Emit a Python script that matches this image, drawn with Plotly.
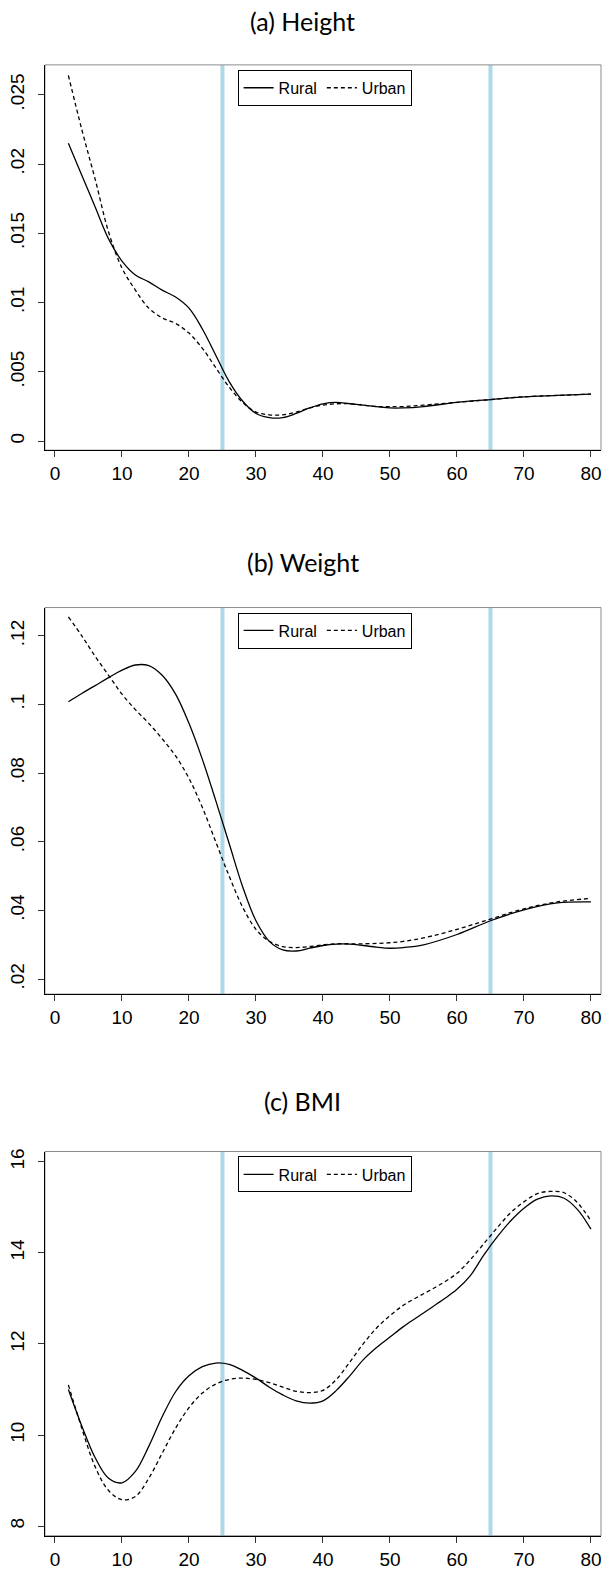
import plotly.graph_objects as go
from plotly.subplots import make_subplots

# ---------------- data ----------------
ages_a = [2, 4, 6, 8, 10, 12, 14, 16, 18, 20, 22, 24, 26, 28, 30, 32, 34, 36, 38, 40,
          42, 44, 46, 48, 50, 52, 55, 60, 65, 70, 75, 80]
height_rural = [0.0215, 0.0192, 0.0169, 0.0146, 0.0130, 0.0120, 0.0115, 0.0109, 0.0104, 0.0096,
                0.0081, 0.0062, 0.0043, 0.0029, 0.0020, 0.0017, 0.0017, 0.0020, 0.0024, 0.0027,
                0.0028, 0.0027, 0.0026, 0.0025, 0.0024, 0.0024, 0.0025, 0.0028, 0.0030, 0.0032,
                0.0033, 0.0034]
height_urban = [0.0264, 0.0225, 0.0189, 0.0151, 0.0125, 0.0109, 0.0096, 0.0089, 0.0085, 0.0078,
                0.0067, 0.0053, 0.0039, 0.0028, 0.0021, 0.0019, 0.0019, 0.0021, 0.0024, 0.0026,
                0.0027, 0.0027, 0.0026, 0.0025, 0.0025, 0.0025, 0.0026, 0.0028, 0.0030, 0.0032,
                0.0033, 0.0034]

ages_b = [2, 4, 6, 8, 10, 12, 14, 16, 18, 20, 22, 24, 26, 28, 30, 32, 34, 36, 38, 40,
          42, 44, 46, 48, 50, 52, 55, 60, 65, 70, 75, 80]
weight_rural = [0.1008, 0.1032, 0.1055, 0.1078, 0.1100, 0.1115, 0.1113, 0.1085, 0.1030, 0.0945,
                0.0840, 0.0720, 0.0595, 0.0470, 0.0370, 0.0310, 0.0285, 0.0282, 0.0290, 0.0298,
                0.0302, 0.0302, 0.0298, 0.0293, 0.0290, 0.0292, 0.0300, 0.0330, 0.0370, 0.0402,
                0.0422, 0.0425]
weight_urban = [0.1255, 0.1200, 0.1140, 0.1085, 0.1030, 0.0985, 0.0945, 0.0900, 0.0850, 0.0785,
                0.0700, 0.0600, 0.0500, 0.0410, 0.0345, 0.0310, 0.0295, 0.0292, 0.0295, 0.0300,
                0.0303, 0.0303, 0.0303, 0.0304, 0.0306, 0.0310, 0.0320, 0.0345, 0.0375, 0.0405,
                0.0425, 0.0435]

ages_c = [2, 4, 6, 8, 10, 12, 14, 16, 18, 20, 22, 24, 26, 28, 30, 32, 34, 36, 38, 40,
          42, 44, 46, 48, 50, 52, 54, 56, 58, 60, 62, 64, 66, 68, 70, 72, 74, 76, 78, 80]
bmi_rural = [11.0, 10.2, 9.5, 9.05, 8.95, 9.2, 9.75, 10.4, 10.95, 11.3, 11.5, 11.58, 11.55, 11.42,
             11.25, 11.05, 10.88, 10.75, 10.7, 10.75, 10.98, 11.3, 11.65, 11.92, 12.15, 12.38,
             12.58, 12.78, 12.98, 13.2, 13.5, 13.95, 14.35, 14.7, 14.98, 15.18, 15.25, 15.2,
             14.95, 14.52]
bmi_urban = [11.1, 10.15, 9.3, 8.78, 8.58, 8.65, 9.05, 9.6, 10.15, 10.6, 10.92, 11.12, 11.22, 11.25,
             11.22, 11.15, 11.05, 10.96, 10.93, 10.98, 11.22, 11.6, 12.0, 12.35, 12.62, 12.85,
             13.02, 13.18, 13.35, 13.55, 13.85, 14.2, 14.55, 14.88, 15.12, 15.3, 15.35, 15.32,
             15.1, 14.7]

titles = ["(a) Height", "(b) Weight", "(c) BMI"]
series_names = ["Rural", "Urban"]
vlines = [25, 65]
x_ticks = [0, 10, 20, 30, 40, 50, 60, 70, 80]
y_ticks_a = [0, 0.005, 0.01, 0.015, 0.02, 0.025]
y_text_a = ["0", ".005", ".01", ".015", ".02", ".025"]
y_ticks_b = [0.02, 0.04, 0.06, 0.08, 0.10, 0.12]
y_text_b = [".02", ".04", ".06", ".08", ".1", ".12"]
y_ticks_c = [8, 10, 12, 14, 16]
y_text_c = ["8", "10", "12", "14", "16"]

# ---------------- layout geometry ----------------
W, H = 606, 1573
boxes = [(62, 448), (605.7, 993), (1150.7, 1535.7)]  # top, bottom in px
title_y = [18, 560, 1100]
x_dom = [45 / W, 602 / W]
y_ranges = [[-0.000648, 0.02716], [0.01564, 0.12823], [7.787, 16.226]]

panels = [
    (ages_a, height_rural, height_urban, y_ticks_a, y_text_a),
    (ages_b, weight_rural, weight_urban, y_ticks_b, y_text_b),
    (ages_c, bmi_rural, bmi_urban, y_ticks_c, y_text_c),
]

fig = make_subplots(rows=3, cols=1)
tick_font = dict(family="Liberation Sans, Arial, sans-serif", size=19, color="black")
shapes = []
annotations = []

for i, (ages, rural, urban, yt, ytxt) in enumerate(panels):
    r = i + 1
    leg = "legend" if i == 0 else f"legend{i+1}"
    fig.add_trace(go.Scatter(x=ages, y=rural, mode="lines", name=series_names[0],
                             line=dict(color="black", width=1.3, shape="spline", smoothing=1),
                             legend=leg), row=r, col=1)
    fig.add_trace(go.Scatter(x=ages, y=urban, mode="lines", name=series_names[1],
                             line=dict(color="black", width=1.3, dash="4px,3px", shape="spline",
                                       smoothing=1),
                             legend=leg), row=r, col=1)
    top, bottom = boxes[i]
    xa = "xaxis" if i == 0 else f"xaxis{i+1}"
    ya = "yaxis" if i == 0 else f"yaxis{i+1}"
    fig.layout[xa].update(domain=x_dom, range=[-1.5, 81.5], tickvals=x_ticks,
                          ticks="outside", ticklen=6, tickcolor="#333", showgrid=False,
                          zeroline=False, showline=True, linecolor="black", linewidth=1,
                          tickfont=tick_font)
    fig.layout[ya].update(domain=[1 - bottom / H, 1 - top / H], range=y_ranges[i],
                          tickvals=yt, ticktext=ytxt, tickangle=-90,
                          ticks="outside", ticklen=6, tickcolor="#333", showgrid=False,
                          zeroline=False, showline=True, linecolor="black", linewidth=1,
                          tickfont=tick_font, ticklabelstandoff=6)
    xref = "x" if i == 0 else f"x{i+1}"
    yref = "y" if i == 0 else f"y{i+1}"
    for v in vlines:
        shapes.append(dict(type="line", xref=xref, yref=f"{yref} domain", x0=v, x1=v, y0=0, y1=1,
                           line=dict(color="#ADD8E6", width=4), layer="below"))
    shapes.append(dict(type="rect", xref=f"{xref} domain", yref=f"{yref} domain",
                       x0=0, x1=1, y0=0, y1=1, line=dict(color="#8c8c8c", width=1),
                       layer="below"))
    annotations.append(dict(text=titles[i], xref="paper", yref="paper", x=0.5,
                            y=1 - title_y[i] / H, xanchor="center", yanchor="middle",
                            showarrow=False,
                            font=dict(family="Lato, sans-serif", size=25, color="black")))
    fig.layout[leg] = dict(x=238 / W, y=1 - (top + 5) / H, xanchor="left", yanchor="top",
                           orientation="h", bordercolor="black", borderwidth=1,
                           bgcolor="white",
                           font=dict(family="Liberation Sans, Arial, sans-serif", size=16,
                                     color="black"),
                           itemwidth=30, tracegroupgap=0)

fig.update_layout(width=W, height=H, margin=dict(l=0, r=0, t=0, b=0),
                  plot_bgcolor="white", paper_bgcolor="white",
                  shapes=shapes, annotations=annotations, showlegend=True)

fig.write_html("out.html", config={"displayModeBar": False},
               post_script="document.body.style.margin='0';"
                           "document.body.style.overflow='hidden';")
